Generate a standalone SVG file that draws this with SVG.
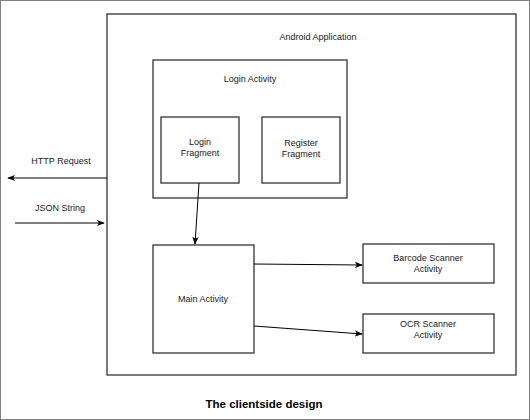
<svg xmlns="http://www.w3.org/2000/svg" width="530" height="420" viewBox="0 0 530 420">
<style>
.box{fill:#fff;stroke:#333;stroke-width:1.3}
.t{font-family:"Liberation Sans",Arial,sans-serif;font-size:9px;fill:#222;text-anchor:middle}
.c{stroke:#000;stroke-width:1;fill:none;marker-end:url(#ah)}
</style>
<defs>
<marker id="ah" viewBox="0 0 10 10" refX="9" refY="5" markerWidth="8" markerHeight="8" markerUnits="userSpaceOnUse" orient="auto">
<path d="M0,1 L10,5 L0,9 L2.5,5 Z" fill="#000"/>
</marker>
</defs>
<rect x="0.5" y="0.5" width="529" height="419" fill="#fff" stroke="#808080" stroke-width="1"/>
<g id="android-app">
<rect class="box" x="107" y="14" width="409" height="361" stroke-width="1.6"/>
<text class="t" x="318" y="40">Android Application</text>
</g>
<g id="login-activity">
<rect class="box" x="153" y="60" width="194" height="138"/>
<text class="t" x="250" y="82">Login Activity</text>
</g>
<g id="login-fragment">
<rect class="box" x="161" y="117" width="78" height="66"/>
<text class="t" x="200" y="145">Login</text>
<text class="t" x="200" y="156">Fragment</text>
</g>
<g id="register-fragment">
<rect class="box" x="262" y="117" width="78" height="66"/>
<text class="t" x="301" y="146">Register</text>
<text class="t" x="301" y="157">Fragment</text>
</g>
<g id="main-activity">
<rect class="box" x="153" y="245" width="101" height="108"/>
<text class="t" x="203" y="302">Main Activity</text>
</g>
<g id="barcode-scanner">
<rect class="box" x="363" y="244" width="131" height="39"/>
<text class="t" x="428" y="261">Barcode Scanner</text>
<text class="t" x="428" y="272">Activity</text>
</g>
<g id="ocr-scanner">
<rect class="box" x="363" y="314" width="131" height="39"/>
<text class="t" x="428" y="327">OCR Scanner</text>
<text class="t" x="428" y="338">Activity</text>
</g>
<g id="connectors">
<line class="c" x1="199" y1="183" x2="195" y2="244"/>
<line class="c" x1="254" y1="264" x2="362" y2="265"/>
<line class="c" x1="254" y1="326" x2="362" y2="334"/>
<line class="c" x1="107" y1="178" x2="8" y2="178"/>
<line class="c" x1="15" y1="223" x2="104" y2="223"/>
</g>
<g id="labels">
<text class="t" x="61" y="164">HTTP Request</text>
<text class="t" x="60" y="211">JSON String</text>
<text x="264" y="408" style="font-family:'Liberation Sans',Arial,sans-serif;font-size:11.5px;font-weight:bold;text-anchor:middle;fill:#000">The clientside design</text>
</g>
</svg>
